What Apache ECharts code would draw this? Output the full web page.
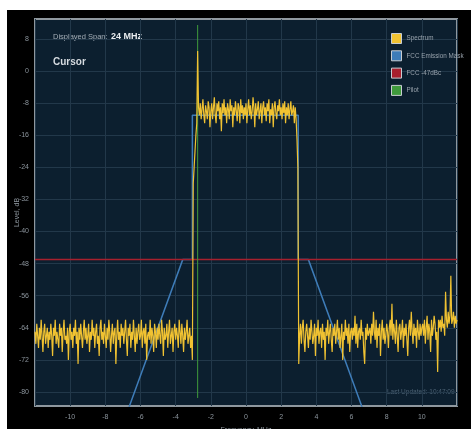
<!DOCTYPE html>
<html>
<head>
<meta charset="utf-8">
<script src="https://cdn.jsdelivr.net/npm/echarts@6/dist/echarts.min.js"></script>
<style>
html,body{margin:0;padding:0;background:#fff;}
#frame{position:absolute;left:7px;top:10px;width:464px;height:419px;background:#000;}
#chart{position:absolute;left:0;top:0;width:471px;height:429px;}
</style>
</head>
<body>
<div id="frame"></div>
<div id="chart"></div>
<script>
// ---- data ----
var freqStart = -12, freqStep = 0.05;
var noiseLeft = [ // -12.00 .. -3.05 MHz
  -65,-68,-63,-66,-69,-64,-67,-62,-66,-70,-65,-63,-68,-66,-64,-69,-65,-67,-63,-66,
  -71,-64,-66,-62,-68,-65,-67,-69,-63,-66,-64,-70,-65,-62,-67,-66,-68,-64,-72,-65,
  -63,-67,-65,-69,-64,-66,-62,-68,-65,-73,-64,-67,-63,-66,-69,-65,-62,-67,-64,-68,
  -66,-63,-70,-65,-67,-62,-66,-64,-69,-65,-63,-68,-66,-71,-64,-62,-67,-65,-68,-63,
  -66,-69,-64,-67,-62,-65,-70,-66,-63,-68,-65,-64,-73,-66,-62,-67,-65,-69,-63,-66,
  -64,-68,-65,-62,-67,-71,-64,-66,-63,-69,-65,-67,-62,-66,-70,-64,-68,-65,-63,-67,
  -66,-62,-69,-65,-64,-68,-63,-72,-66,-65,-67,-62,-68,-64,-66,-70,-63,-65,-69,-64,
  -67,-63,-66,-68,-62,-65,-71,-64,-67,-66,-63,-69,-65,-62,-68,-66,-64,-70,-65,-63,
  -67,-64,-66,-69,-62,-65,-68,-63,-66,-70,-64,-67,-65,-62,-68,-66,-64,-69,-66,-72
];
var bandLevels = [ // -3.00 .. 2.95 MHz (pilot peak at -2.75)
  -28,-24,-20,-16,-13,5,-9,-11,-8,-12,-9.5,-7,-11,-13,-8.5,-10,-12,-7.5,-9,-14,
  -10,-8,-12,-9,-6.5,-11,-13,-8,-10,-7.5,-12,-9,-15,-8,-10.5,-7,-11,-9,-13,-8,
  -9.5,-12,-7,-10,-8.5,-14,-9,-11,-7.5,-10,-12.5,-8,-9,-13,-7,-10.5,-8.5,-12,-9,-11,
  -8,-13,-9.5,-7,-11,-8.5,-12,-10,-6.5,-9,-14,-8,-11,-9.5,-7.5,-12,-10,-8,-13,-9,
  -7.5,-11,-9,-12.5,-8,-10,-7,-13,-9.5,-11,-8,-14,-9,-7.5,-10.5,-12,-8.5,-10,-7,-11,
  -9,-12,-8,-10.5,-7.5,-13,-9,-11,-8,-12,-9.5,-7.5,-11,-10,-8.5,-13,-9,-12,-17,-24
];
var noiseRight = [ // 3.00 .. 12.00 MHz
  -73,
  -66,-63,-68,-64,-62,-67,-70,-65,-63,-66,-69,-64,-67,-62,-65,-68,-66,-63,-71,-64,
  -66,-62,-68,-65,-64,-69,-63,-67,-65,-72,-64,-66,-62,-68,-65,-63,-67,-70,-64,-66,
  -63,-68,-65,-62,-67,-64,-69,-66,-63,-72,-65,-67,-62,-66,-64,-68,-63,-70,-65,-64,
  -67,-64,-66,-61,-68,-63,-69,-65,-64,-67,-62,-66,-65,-70,-73,-64,-67,-63,-66,-65,
  -64,-68,-63,-66,-60,-65,-67,-62,-69,-64,-66,-63,-71,-65,-62,-67,-64,-68,-66,-63,
  -65,-69,-64,-62,-66,-58,-67,-63,-65,-68,-62,-66,-70,-64,-63,-67,-65,-62,-69,-64,
  -66,-63,-67,-71,-64,-62,-66,-60,-65,-68,-63,-66,-64,-69,-62,-65,-67,-63,-66,-64,
  -63,-66,-62,-68,-64,-61,-67,-63,-65,-70,-62,-66,-64,-61,-63,-67,-65,-75,-62,-64,
  -62,-65,-61,-64,-63,-66,-55,-62,-64,-60,-63,-61,-51,-63,-62,-60,-64,-61,-63,-62
];
var maskPoints = [[-7.5,-94],[-3.6,-47],[-3.05,-47],[-3.05,-11],[2.97,-11],[2.97,-47],[3.55,-47],[7.45,-94]];
var limitLevel = -47;
var pilotLine = [[-2.75,-81.5],[-2.75,11.5]];
var yTicks = [8,0,-8,-16,-24,-32,-40,-48,-56,-64,-72,-80];
var seriesNames = ['Spectrum','FCC Emission Mask','FCC -47dBc','Pilot'];

// ---- build ----
var levels = noiseLeft.concat(bandLevels, noiseRight);
var spectrum = [];
for (var i = 0; i < levels.length; i++) {
  var f = Math.round((freqStart + i * freqStep) * 100) / 100;
  spectrum.push([f, levels[i]]);
}

var labelColor = '#8b949c';
var chart = echarts.init(document.getElementById('chart'));
chart.setOption({
  animation: false,
  grid: {left: 35, right: 14, top: 19, bottom: 23, show: true, outerBoundsMode: 'none', containLabel: false,
         backgroundColor: '#0c1f2f', borderColor: '#8f989f', borderWidth: 2},
  legend: {
    data: seriesNames, orient: 'vertical', left: 386, top: 28,
    itemWidth: 10, itemHeight: 10, itemGap: 6.3, icon: 'rect',
    itemStyle: {borderColor: '#c8cdd2', borderWidth: 1},
    textStyle: {color: '#98a2ac', fontSize: 6.3, fontFamily: 'Liberation Sans'}
  },
  xAxis: {
    type: 'value', min: -12, max: 12, interval: 2,
    name: 'Frequency, MHz', nameLocation: 'middle', nameGap: 21, nameMoveOverlap: false,
    nameTextStyle: {color: labelColor, fontSize: 7},
    axisLine: {show: false}, axisTick: {show: false},
    axisLabel: {color: labelColor, fontSize: 7, margin: 8, showMinLabel: false, showMaxLabel: false},
    splitLine: {show: true, lineStyle: {color: '#22384a', width: 1}}
  },
  yAxis: {
    type: 'value', min: -83.5, max: 13,
    name: 'Level, dB', nameLocation: 'middle', nameGap: 14, nameMoveOverlap: false,
    nameTextStyle: {color: labelColor, fontSize: 7},
    axisLine: {show: false},
    axisTick: {show: false, customValues: yTicks},
    axisLabel: {color: labelColor, fontSize: 7, margin: 6, customValues: yTicks},
    splitLine: {show: true, lineStyle: {color: '#22384a', width: 1}}
  },
  graphic: [
    {type: 'text', left: 53, top: 31, style: {
      text: '{a|Displayed Span:} {b|24 MHz}',
      rich: {a: {fill: '#a3adb6', fontSize: 7.5, fontFamily: 'Liberation Sans'},
             b: {fill: '#e8ecef', fontSize: 9, fontWeight: 'bold', fontFamily: 'Liberation Sans'}}}},
    {type: 'text', left: 53, top: 57, style: {text: 'Cursor', fill: '#d6dbe0', fontSize: 10, fontWeight: 'bold', fontFamily: 'Liberation Sans'}},
    {type: 'text', left: 387, top: 389, style: {text: 'Last Updated: 10:47:09', fill: '#4c6274', fontSize: 6.5, fontFamily: 'Liberation Sans'}}
  ],
  series: [
    {name: 'FCC Emission Mask', type: 'line', data: maskPoints, showSymbol: false,
     lineStyle: {color: '#3e7cb8', width: 1.5}, itemStyle: {color: '#3e7cb8'}, z: 2},
    {name: 'FCC -47dBc', type: 'line', data: [[-12, limitLevel],[12, limitLevel]], showSymbol: false,
     lineStyle: {color: '#a8202e', width: 1.5}, itemStyle: {color: '#a8202e'}, z: 3},
    {name: 'Pilot', type: 'line', data: pilotLine, showSymbol: false,
     lineStyle: {color: '#3f9a3c', width: 1}, itemStyle: {color: '#3f9a3c'}, z: 4},
    {name: 'Spectrum', type: 'line', data: spectrum, showSymbol: false, sampling: null,
     lineStyle: {color: '#f0c232', width: 1.2}, itemStyle: {color: '#f0c232'}, z: 5}
  ]
});
</script>
</body>
</html>
